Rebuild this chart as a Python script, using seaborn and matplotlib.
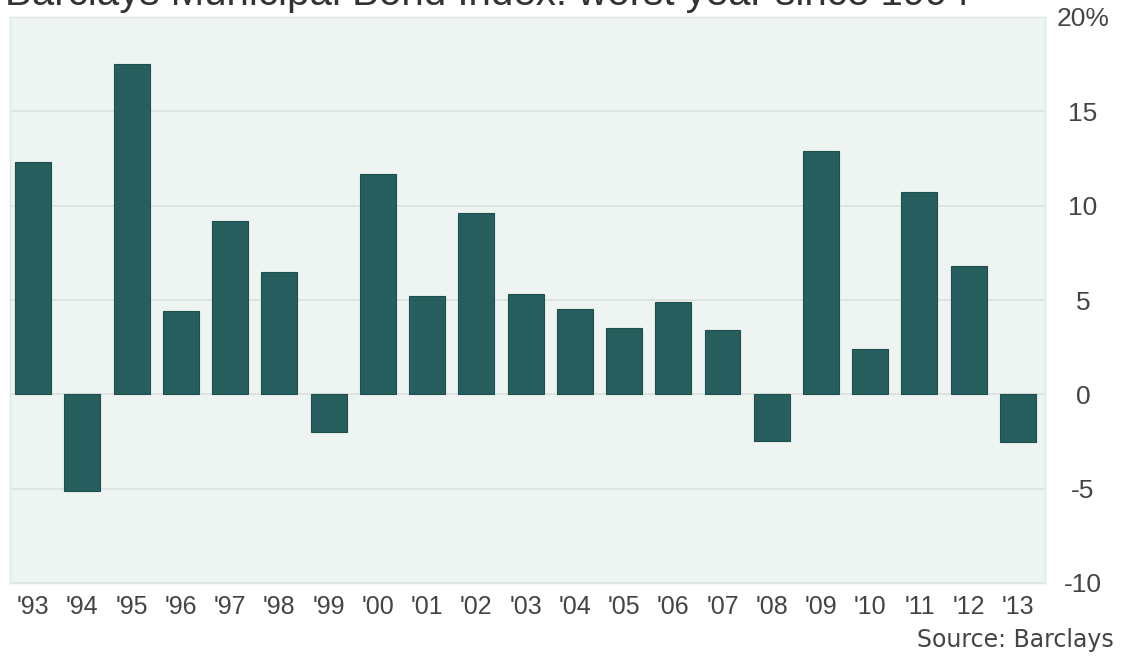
import matplotlib
matplotlib.use("Agg")
import matplotlib.pyplot as plt
import seaborn as sns
import pandas as pd

years = ["'93", "'94", "'95", "'96", "'97", "'98", "'99", "'00", "'01", "'02", "'03",
         "'04", "'05", "'06", "'07", "'08", "'09", "'10", "'11", "'12", "'13"]
returns = [12.3, -5.1, 17.5, 4.4, 9.2, 6.5, -2.0, 11.7, 5.2, 9.6, 5.3,
           4.5, 3.5, 4.9, 3.4, -2.45, 12.9, 2.4, 10.7, 6.8, -2.5]
y_ticks = [20, 15, 10, 5, 0, -5, -10]
y_tick_labels = ["20%", "15", "10", "5", "0", "-5", "-10"]
title = "Barclays Municipal Bond Index: worst year since 1994"
source = "Source: Barclays"

sns.set_theme(style="white")
plt.rcParams["font.family"] = ["Liberation Sans", "DejaVu Sans"]

df = pd.DataFrame({"year": years, "ret": returns})

fig = plt.figure(figsize=(11.22, 6.56), dpi=100)
ax = fig.add_axes([10/1122, 1-583/656, (1045-10)/1122, (583-17)/656])
ax.set_facecolor("#eef4f2")

sns.barplot(data=df, x="year", y="ret", color="#265f5d", width=0.73,
            saturation=1, ax=ax, zorder=3, edgecolor="#1f4f4d", linewidth=0.8)

ax.set_ylim(-10, 20)
ax.set_xlim(-0.47, 20.55)
ax.set_yticks(y_ticks)
ax.set_yticklabels(y_tick_labels)
ax.yaxis.tick_right()
ax.tick_params(axis="y", length=0, pad=27.4, labelsize=19, labelcolor="#444444")
ax.tick_params(axis="x", length=0, pad=9, labelsize=18, labelcolor="#444444")
for lab in ax.get_yticklabels():
    lab.set_horizontalalignment("center")
ax.grid(axis="y", color="#d9e0de", linewidth=1.2, zorder=0)
ax.set_axisbelow(True)
ax.set_xlabel("")
ax.set_ylabel("")
for s in ax.spines.values():
    s.set_color("#dfe5e3")
    s.set_linewidth(1.0)

fig.text(5/1122, 1 - 5/656, title, fontsize=29, color="#333333",
         ha="left", va="baseline")
fig.text(1114/1122, 1-640/656, source, fontsize=17, color="#444444",
         ha="right", va="center", family=["DejaVu Sans"])

fig.savefig("out.png", dpi=100, facecolor="white")
